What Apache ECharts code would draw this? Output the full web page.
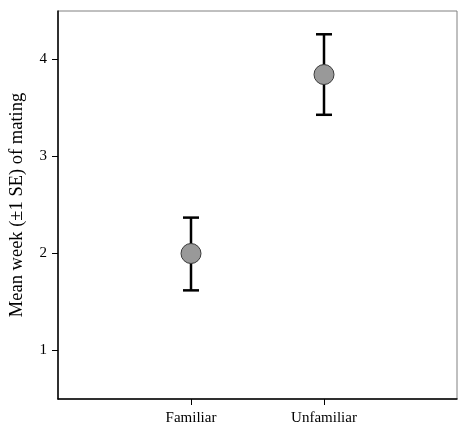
<!DOCTYPE html>
<html>
<head>
<meta charset="utf-8">
<script src="https://cdn.jsdelivr.net/npm/echarts@6/dist/echarts.min.js"></script>
<style>html,body{margin:0;padding:0;background:#fff;}#c{width:474px;height:436px;}</style>
</head>
<body>
<div id="c"></div>
<script>
var categories = ['Familiar', 'Unfamiliar'];
var means = [2.0, 3.845];
var upper = [2.37, 4.26];
var lower = [1.62, 3.43];
var yTicks = [1, 2, 3, 4];

var chart = echarts.init(document.getElementById('c'), null, {renderer: 'canvas'});
var FONT = '"Liberation Serif", "DejaVu Serif", serif';

var pts = categories.map(function (c, i) { return [i + 1, means[i]]; });
var bars = categories.map(function (c, i) { return [i + 1, lower[i], upper[i]]; });

chart.setOption({
  animation: false,
  backgroundColor: '#fff',
  grid: {left: 58, right: 17, top: 11, bottom: 37, outerBoundsMode: 'none', containLabel: false,
    show: true, borderColor: '#808080', borderWidth: 1, backgroundColor: 'transparent'},
  xAxis: {
    type: 'value', min: 0, max: 3, interval: 1,
    splitLine: {show: false},
    axisLine: {show: true, lineStyle: {color: '#000', width: 1.5}},
    axisTick: {show: true, length: 6, lineStyle: {color: '#000', width: 1}, customValues: [1, 2]},
    axisLabel: {customValues: [1, 2], margin: 12, color: '#000', fontFamily: FONT, fontSize: 15,
      formatter: function (v) { return categories[Math.round(v) - 1] || ''; }}
  },
  yAxis: {
    type: 'value', min: 0.5, max: 4.5,
    name: 'Mean week (\u00b11 SE) of mating',
    nameLocation: 'middle', nameGap: 31, nameRotate: 90,
    nameTextStyle: {color: '#000', fontFamily: FONT, fontSize: 18.5},
    splitLine: {show: false},
    axisLine: {show: true, lineStyle: {color: '#000', width: 1.5}},
    axisTick: {show: true, length: 6, lineStyle: {color: '#000', width: 1}, customValues: yTicks},
    axisLabel: {customValues: yTicks, margin: 11, color: '#000', fontFamily: FONT, fontSize: 15}
  },
  series: [
    {
      type: 'custom',
      data: bars,
      z: 2,
      renderItem: function (params, api) {
        var x = api.value(0);
        var lo = api.coord([x, api.value(1)]);
        var hi = api.coord([x, api.value(2)]);
        var hw = 8;
        var style = {stroke: '#000', lineWidth: 2.5};
        return {
          type: 'group',
          children: [
            {type: 'line', shape: {x1: lo[0], y1: lo[1], x2: hi[0], y2: hi[1]}, style: style},
            {type: 'line', shape: {x1: hi[0] - hw, y1: hi[1], x2: hi[0] + hw, y2: hi[1]}, style: style},
            {type: 'line', shape: {x1: lo[0] - hw, y1: lo[1], x2: lo[0] + hw, y2: lo[1]}, style: style}
          ]
        };
      }
    },
    {
      type: 'scatter',
      data: pts,
      z: 5,
      symbol: 'circle',
      symbolSize: 20,
      itemStyle: {color: '#999999', borderColor: '#3a3a3a', borderWidth: 1, opacity: 1}
    }
  ]
});
</script>
</body>
</html>
